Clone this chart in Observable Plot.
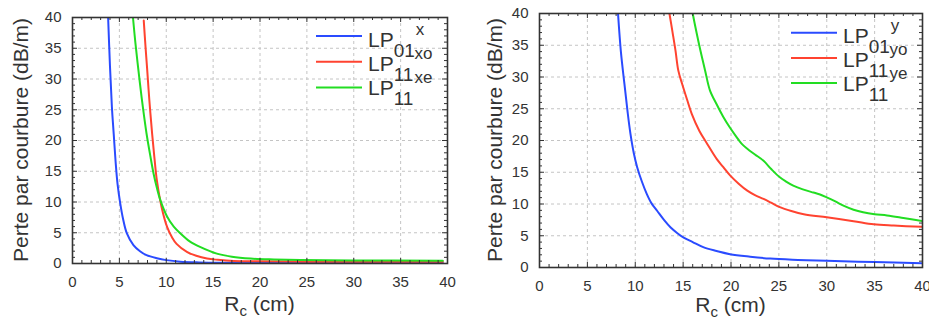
<!DOCTYPE html>
<html><head><meta charset="utf-8">
<script src="https://cdn.jsdelivr.net/npm/d3@7"></script>
<script src="https://cdn.jsdelivr.net/npm/@observablehq/plot@0.6"></script>
<style>
html,body{margin:0;padding:0;background:#fff;}
#wrap{position:relative;width:929px;height:320px;overflow:hidden;}
#left{position:absolute;left:0;top:0;}
#right{position:absolute;left:470px;top:0;}
</style></head>
<body><div id="wrap"><div id="left"></div><div id="right"></div></div>
<script>
// ---- data (R_c in cm, loss in dB/m) ----
const majorTicks = [0, 5, 10, 15, 20, 25, 30, 35, 40];
const minorTicks = d3.range(0, 41, 1).filter(v => v % 5 !== 0);

const xLabel = "R";
const xLabelSub = "c";
const xLabelRest = " (cm)";
const yLabel = "Perte par courbure (dB/m)";

const seriesColors = ["#2a4bff", "#ff4330", "#22dd22"];
const leftNames = [["01", "x"], ["11", "xo"], ["11", "xe"]];
const rightNames = [["01", "y"], ["11", "yo"], ["11", "ye"]];

const leftLP01x = [[3.8,40],[4.0,32],[4.2,25.5],[4.4,21],[4.6,16.5],[4.8,13],[5.1,9.7],[5.4,7.2],[5.8,4.9],[6.5,3.0],[7.2,2.0],[7.9,1.35],[9,0.85],[10,0.55],[11.5,0.3],[13.5,0.18],[16,0.12],[20,0.1],[30,0.1],[39.5,0.1]];
const leftLP11xo = [[7.6,39.5],[7.8,35],[7.95,31.9],[8.2,26.5],[8.5,21],[8.75,17],[9.0,13.5],[9.5,9.2],[10.1,5.9],[10.6,4.3],[11.1,3.2],[12.2,1.9],[13.2,1.25],[14.35,0.8],[15.5,0.6],[17.2,0.42],[20,0.35],[25,0.3],[30,0.3],[39.5,0.3]];
const leftLP11xe = [[6.45,40],[6.7,36],[7.2,29.2],[7.5,25.5],[7.9,21.1],[8.3,17.5],[8.65,14.6],[9.0,12.3],[9.37,10.3],[10.1,7.6],[10.8,6.0],[11.5,4.9],[12.5,3.6],[13.6,2.7],[15.4,1.6],[17,1.1],[19,0.8],[21.5,0.65],[24.3,0.55],[30,0.5],[39.5,0.45]];

const rightLP01y = [[8.2,40],[8.5,34],[8.87,28.9],[9.2,24.5],[9.5,21.05],[9.85,18],[10.2,15.8],[10.7,13.5],[11.2,11.6],[11.7,10.1],[12.3,8.9],[13,7.5],[13.7,6.3],[14.4,5.4],[15.06,4.7],[16,4.0],[17.1,3.2],[18.5,2.6],[19.9,2.1],[22,1.7],[24.1,1.4],[27,1.2],[30,1.05],[35,0.85],[40,0.65]];
const rightLP11yo = [[13.57,40],[13.9,37],[14.2,34.2],[14.5,31],[14.9,28.9],[15.4,26.5],[15.9,24.2],[16.7,21.5],[17.5,19.5],[18.5,17.1],[19.2,15.8],[19.9,14.5],[20.8,13.2],[21.7,12.1],[22.5,11.4],[23.4,10.8],[24.2,10.2],[25.1,9.5],[26.3,8.9],[27.6,8.4],[30,7.9],[32.8,7.3],[34.9,6.8],[37,6.6],[40,6.4]];
const rightLP11ye = [[16,40],[16.4,37],[16.8,34.2],[17.3,31],[17.8,27.9],[18.5,25.7],[19.2,23.7],[19.9,22],[20.6,20.5],[21.1,19.5],[21.7,18.7],[22.5,17.8],[23.4,16.8],[24.2,15.5],[25.1,14.2],[25.8,13.5],[26.5,12.9],[27.5,12.3],[28.6,11.8],[29.3,11.5],[30,11.05],[30.9,10.4],[31.8,9.7],[32.8,9.1],[33.8,8.7],[35,8.4],[36.3,8.2],[38,7.8],[40,7.3]];

const FONT = "'Liberation Sans', Arial, Helvetica, sans-serif";
const INK = "#333";

function panel(cfg) {
  const innerW = cfg.width - cfg.ml - cfg.mr;
  const innerH = 320 - cfg.mt - cfg.mb;
  const marks = [
    Plot.gridX(majorTicks, {stroke: "#c4c4c4", strokeOpacity: 1, strokeDasharray: "3,3"}),
    Plot.gridY(majorTicks, {stroke: "#c4c4c4", strokeOpacity: 1, strokeDasharray: "3,3"}),
  ];
  cfg.series.forEach((s, i) => {
    marks.push(Plot.line(s, {x: d => d[0], y: d => d[1], stroke: seriesColors[i], strokeWidth: 2, curve: "catmull-rom", clip: true}));
  });
  // inward ticks on all four sides
  const tk = (vals, len) => [
    Plot.ruleX(vals, {x: d => d, insetTop: innerH - len, stroke: INK, strokeWidth: 1}),
    Plot.ruleX(vals, {x: d => d, insetBottom: innerH - len, stroke: INK, strokeWidth: 1}),
    Plot.ruleY(vals, {y: d => d, insetRight: innerW - len, stroke: INK, strokeWidth: 1}),
    Plot.ruleY(vals, {y: d => d, insetLeft: innerW - len, stroke: INK, strokeWidth: 1}),
  ];
  marks.push(...tk(minorTicks, 3), ...tk(majorTicks, 5));
  marks.push(
    Plot.axisX(majorTicks, {anchor: "bottom", tickSize: 0, tickPadding: 13, label: null, fill: INK}),
    Plot.axisY(majorTicks, {anchor: "left", tickSize: 0, tickPadding: 11, label: null, fill: INK}),
    Plot.frame({stroke: INK, strokeWidth: 1.6})
  );
  const svg = Plot.plot({
    width: cfg.width, height: 320,
    marginLeft: cfg.ml, marginRight: cfg.mr, marginTop: cfg.mt, marginBottom: cfg.mb,
    x: {domain: [0, 40]}, y: {domain: [0, 40]},
    style: {fontFamily: FONT, fontSize: "15px", color: INK, background: "#fff", overflow: "visible"},
    marks
  });
  const g = d3.select(svg).append("g").attr("font-family", FONT).attr("fill", INK);
  // x label
  const xt = g.append("text").attr("x", cfg.ml + innerW / 2).attr("y", cfg.xlabelY)
    .attr("text-anchor", "middle").attr("font-size", 21);
  xt.append("tspan").text(xLabel);
  xt.append("tspan").attr("font-size", 15).attr("dy", 5).text(xLabelSub);
  xt.append("tspan").attr("dy", -5).text(xLabelRest);
  // y label
  g.append("text").attr("transform", `translate(${cfg.ylabelX},${cfg.mt + innerH / 2}) rotate(-90)`)
    .attr("text-anchor", "middle").attr("font-size", 21).text(yLabel);
  // legend
  cfg.names.forEach((n, i) => {
    const b = cfg.legY + i * 24;
    const ly = cfg.lineY + i * cfg.lineStep;
    g.append("line").attr("x1", cfg.legLineX).attr("x2", cfg.legLineX + 46)
      .attr("y1", ly).attr("y2", ly)
      .attr("stroke", seriesColors[i]).attr("stroke-width", 2);
    const t = g.append("text").attr("x", cfg.legTextX).attr("y", b)
      .attr("text-anchor", "start").attr("font-size", 21);
    t.append("tspan").text("LP");
    t.append("tspan").attr("font-size", 19).attr("dy", 10).text(n[0]);
    t.append("tspan").attr("font-size", 17).attr("dx", 1).attr("dy", -22).text(n[1]);
  });
  return svg;
}

document.getElementById("left").appendChild(panel({
  width: 470, ml: 72, mr: 23, mt: 17, mb: 57,
  series: [leftLP01x, leftLP11xo, leftLP11xe], names: leftNames,
  xlabelY: 311, ylabelX: 28, legLineX: 316, legTextX: 368, legY: 46.5, lineY: 36, lineStep: 25.8
}));
document.getElementById("right").appendChild(panel({
  width: 459, ml: 69, mr: 7, mt: 13, mb: 53,
  series: [rightLP01y, rightLP11yo, rightLP11ye], names: rightNames,
  xlabelY: 312, ylabelX: 32, legLineX: 321, legTextX: 373, legY: 43, lineY: 32.7, lineStep: 25.2
}));
</script></body></html>
